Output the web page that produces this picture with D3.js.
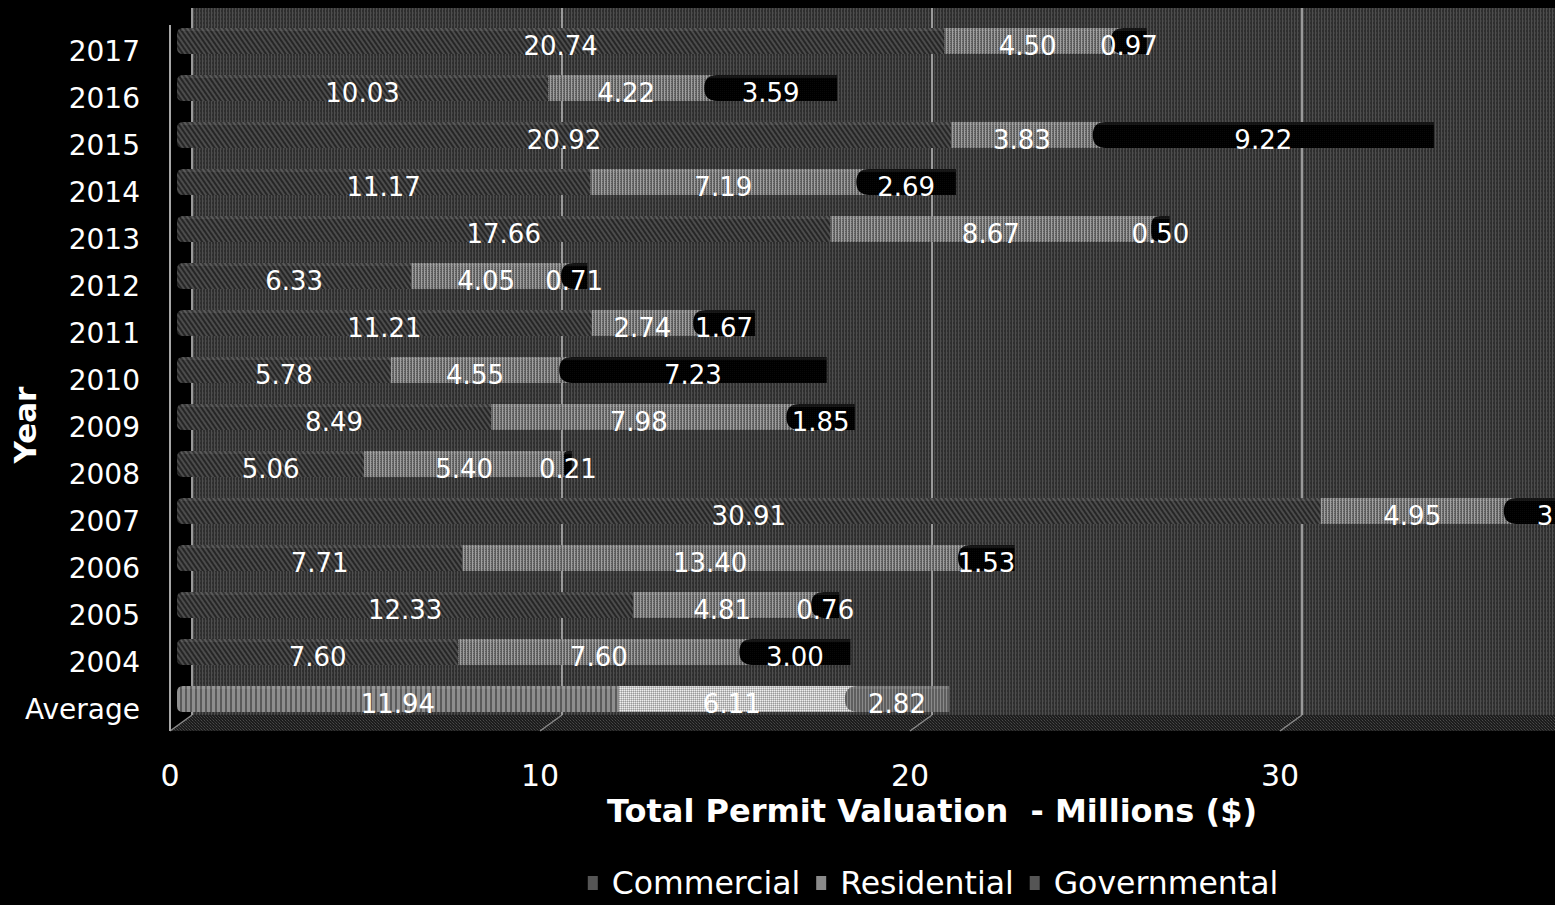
<!DOCTYPE html>
<html>
<head>
<meta charset="utf-8">
<script src="https://cdn.jsdelivr.net/npm/d3@7"></script>
<style>
  html, body { margin: 0; padding: 0; background: #000; overflow: hidden; }
  svg { display: block; font-family: "DejaVu Sans", Verdana, sans-serif; }
  text { white-space: pre; }
</style>
</head>
<body>
<svg id="chart" width="1555" height="905"></svg>
<script>
// Building permit valuations by year (millions of dollars)
const categories   = ["2017","2016","2015","2014","2013","2012","2011","2010","2009","2008","2007","2006","2005","2004","Average"];
const commercial   = [20.74, 10.03, 20.92, 11.17, 17.66, 6.33, 11.21, 5.78, 8.49, 5.06, 30.91, 7.71, 12.33, 7.60, 11.94];
const residential  = [4.50, 4.22, 3.83, 7.19, 8.67, 4.05, 2.74, 4.55, 7.98, 5.40, 4.95, 13.40, 4.81, 7.60, 6.11];
const governmental = [0.97, 3.59, 9.22, 2.69, 0.50, 0.71, 1.67, 7.23, 1.85, 0.21, 3.35, 1.53, 0.76, 3.00, 2.82];
const seriesNames  = ["Commercial", "Residential", "Governmental"];
const xTicks       = [0, 10, 20, 30];

const W = 1555, H = 905;
const svg = d3.select("#chart");
const defs = svg.append("defs");

// --- fill textures -------------------------------------------------------
function stripePattern(id, w, h, bg, stripes) {
  const p = defs.append("pattern").attr("id", id)
    .attr("patternUnits", "userSpaceOnUse").attr("width", w).attr("height", h);
  p.append("rect").attr("width", w).attr("height", h).attr("fill", bg);
  stripes.forEach(s => p.append("rect")
    .attr("x", s[0]).attr("y", s[1]).attr("width", s[2]).attr("height", s[3]).attr("fill", s[4]));
  return p;
}
// back wall: fine vertical stripes
stripePattern("wall", 3, 4, "#2e2e2e", [[1,0,1,4,"#4e4e4e"],[2,0,1,2,"#3c3c3c"]]);
// floor: dotted
stripePattern("floor", 3, 3, "#1c1c1c", [[0,0,1,1,"#4a4a4a"],[1,1,1,1,"#333"],[2,2,1,1,"#3e3e3e"]]);
// commercial: diagonal hatch
(function () {
  const p = defs.append("pattern").attr("id", "com")
    .attr("patternUnits", "userSpaceOnUse").attr("width", 4).attr("height", 4)
    .attr("patternTransform", "rotate(-35)");
  p.append("rect").attr("width", 4).attr("height", 4).attr("fill", "#262626");
  p.append("rect").attr("width", 2).attr("height", 4).attr("fill", "#4c4c4c");
})();
// residential: vertical stripes
stripePattern("res", 3, 2, "#5c5c5c", [[1,0,1,2,"#a0a0a0"],[2,0,1,1,"#808080"]]);
// governmental: near black
stripePattern("gov", 2, 2, "#000", [[0,0,1,1,"#080808"]]);
// Average row
stripePattern("avgCom", 5, 2, "#5a5a5a", [[2,0,3,2,"#8e8e8e"]]);
stripePattern("avgRes", 2, 2, "#c4c4c4", [[0,0,1,1,"#efefef"],[1,1,1,1,"#9a9a9a"]]);
stripePattern("avgGov", 3, 2, "#5e5e5e", [[1,0,1,2,"#8a8a8a"]]);

// --- scales ---------------------------------------------------------------
const x = d3.scaleLinear().domain([0, 40]).range([177, 177 + 40 * 37]);
const backDx = 15, frontDx = -7;          // depth offsets for wall and front axis
const y = d3.scaleBand().domain(categories).range([17.5, 722.5])
  .paddingInner(0.45).paddingOuter(0.225);
const gridValues = x.ticks(4);            // 0, 10, 20, 30, 40

const wallTop = 8, wallBottom = 715, floorFront = 731;

// --- walls and floor ------------------------------------------------------
svg.append("rect").attr("x", x(0) + backDx).attr("y", wallTop)
  .attr("width", W).attr("height", wallBottom - wallTop).attr("fill", "url(#wall)");

svg.append("path")
  .attr("d", `M${x(0)+frontDx},${floorFront} L${x(0)+backDx},${wallBottom} L${W+50},${wallBottom} L${W+50},${floorFront} Z`)
  .attr("fill", "url(#floor)");

// back-wall gridlines
svg.append("g").selectAll("line").data(gridValues).join("line")
  .attr("x1", d => x(d) + backDx).attr("x2", d => x(d) + backDx)
  .attr("y1", wallTop).attr("y2", wallBottom)
  .attr("stroke", "#9a9a9a").attr("stroke-width", 2);

// floor gridlines
svg.append("g").selectAll("line").data(gridValues).join("line")
  .attr("x1", d => x(d) + frontDx).attr("y1", floorFront)
  .attr("x2", d => x(d) + backDx).attr("y2", wallBottom)
  .attr("stroke", "#8a8a8a").attr("stroke-width", 1.5);

// front value axis line
svg.append("line").attr("x1", x(0) + frontDx).attr("x2", x(0) + frontDx)
  .attr("y1", 25).attr("y2", floorFront).attr("stroke", "#a8a8a8").attr("stroke-width", 2);

// --- bars ---------------------------------------------------------------
const rows = categories.map((c, i) => ({
  cat: c, avg: c === "Average",
  vals: [commercial[i], residential[i], governmental[i]]
}));

function leftRounded(x0, x1, y0, h, r) {
  r = Math.min(r, (x1 - x0) / 2, h / 2);
  return `M${x1},${y0} L${x0 + r},${y0} Q${x0},${y0} ${x0},${y0 + r} L${x0},${y0 + h - r} Q${x0},${y0 + h} ${x0 + r},${y0 + h} L${x1},${y0 + h} Z`;
}

const bars = svg.append("g");
rows.forEach(row => {
  const y0 = y(row.cat), h = y.bandwidth();
  const [c, r, g] = row.vals;
  const xc0 = x(0), xc1 = x(c), xr1 = x(c + r), xg1 = x(c + r + g);
  const fills = row.avg ? ["url(#avgCom)", "url(#avgRes)", "url(#avgGov)"] : ["url(#com)", "url(#res)", "url(#gov)"];
  // commercial
  bars.append("path").attr("d", leftRounded(xc0, xc1, y0, h, 6)).attr("fill", fills[0]);
  // residential (runs under the rounded cap of the next segment)
  bars.append("rect").attr("x", xc1).attr("y", y0)
    .attr("width", Math.max(0, xr1 - xc1 + Math.min(12, (xg1 - xr1) / 2))).attr("height", h).attr("fill", fills[1]);
  // governmental with rounded left cap
  bars.append("path").attr("d", leftRounded(xr1, xg1, y0, h, 13)).attr("fill", fills[2]);
  // top face of the bar
  bars.append("rect").attr("x", xc0 + 4).attr("y", y0).attr("width", Math.max(0, xg1 - xc0 - 4)).attr("height", 3)
    .attr("fill", "#ffffff").attr("opacity", 0.08);
});

// value labels
const labels = svg.append("g").attr("fill", "#fff").attr("font-size", 26)
  .attr("text-anchor", "middle").attr("dominant-baseline", "central");
rows.forEach(row => {
  let acc = 0;
  row.vals.forEach(v => {
    labels.append("text")
      .attr("x", x(acc + v / 2))
      .attr("y", y(row.cat) + y.bandwidth() / 2 + 5)
      .text(v.toFixed(2));
    acc += v;
  });
});

// --- axes text ---------------------------------------------------------
svg.append("g").attr("fill", "#fff").attr("font-size", 28).attr("text-anchor", "end")
  .attr("dominant-baseline", "central")
  .selectAll("text").data(categories).join("text")
  .attr("x", 140).attr("y", d => y(d) + y.bandwidth() / 2 + 10).text(d => d);

svg.append("g").attr("fill", "#fff").attr("font-size", 30).attr("text-anchor", "middle")
  .attr("dominant-baseline", "central")
  .selectAll("text").data(xTicks).join("text")
  .attr("x", d => x(d) + frontDx).attr("y", 775).text(d => d);

svg.append("text").attr("x", 932).attr("y", 811).attr("fill", "#fff")
  .attr("font-size", 32).attr("font-weight", "bold").attr("text-anchor", "middle")
  .attr("dominant-baseline", "central").text("Total Permit Valuation  - Millions ($)");

svg.append("text").attr("transform", "translate(25,425) rotate(-90)").attr("fill", "#fff")
  .attr("font-size", 31).attr("font-weight", "bold").attr("text-anchor", "middle")
  .attr("dominant-baseline", "central").text("Year");

// --- legend --------------------------------------------------------------
const legend = svg.append("g");
const items = seriesNames.map((n, i) => {
  const g = legend.append("g");
  g.append("rect").attr("x", 0).attr("y", -7).attr("width", 10).attr("height", 14)
    .attr("fill", i === 1 ? "#8a8a8a" : "#555");
  const t = g.append("text").attr("x", 24).attr("y", 0).attr("fill", "#fff").attr("font-size", 31.5)
    .attr("dominant-baseline", "central").text(n);
  return { g, w: 24 + t.node().getComputedTextLength() };
});
const gap = 16;
const total = d3.sum(items, d => d.w) + gap * (items.length - 1);
let lx = 933 - total / 2;
items.forEach(it => { it.g.attr("transform", `translate(${lx},883)`); lx += it.w + gap; });
</script>
</body>
</html>
